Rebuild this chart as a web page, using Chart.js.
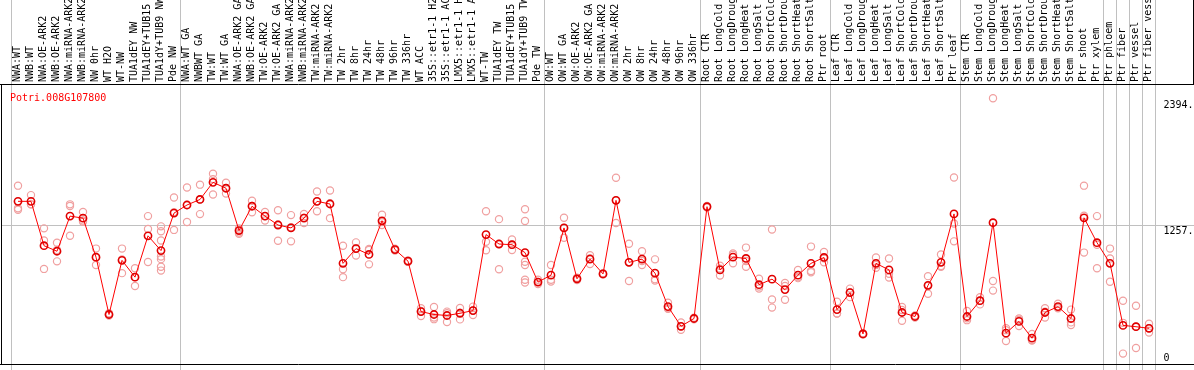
<!DOCTYPE html>
<html>
<head>
<meta charset="utf-8">
<script src="https://cdn.jsdelivr.net/npm/chart.js@4.4.1/dist/chart.umd.min.js"></script>
<style>
  html, body { margin: 0; padding: 0; background: #fff; }
  #wrap { width: 1194px; height: 370px; position: relative; }
</style>
</head>
<body>
<div id="wrap"><canvas id="chart"></canvas></div>
<script>
const geneId = 'Potri.008G107800';

// sample names as shown (truncated to 14 chars like the original)
const samples = [
  'NWA:WT', 'NWB:WT', 'NWA:OE-ARK2', 'NWB:OE-ARK2', 'NWA:miRNA-ARK2', 'NWB:miRNA-ARK2',
  'NW 0hr', 'WT H2O', 'WT-NW', 'TUA1dEY NW', 'TUA1dEY+TUB15', 'TUA1dY+TUB9 NW', 'Pde NW',
  'NWA:WT GA', 'NWBWT GA', 'TW:WT', 'TW:WT GA', 'NWA:OE-ARK2 GA', 'NWB:OE-ARK2 GA',
  'TW:OE-ARK2', 'TW:OE-ARK2 GA', 'NWA:miRNA-ARK2', 'NWB:miRNA-ARK2', 'TW:miRNA-ARK2',
  'TW:miRNA-ARK2', 'TW 2hr', 'TW 8hr', 'TW 24hr', 'TW 48hr', 'TW 96hr', 'TW 336hr',
  'WT ACC', '35S::etr1-1 H2', '35S::etr1-1 AC', 'LMX5::etr1-1 H', 'LMX5::etr1-1 A',
  'WT-TW', 'TUA1dEY TW', 'TUA1dEY+TUB15', 'TUA1dY+TUB9 TW', 'Pde TW',
  'OW:WT', 'OW:WT GA', 'OW:OE-ARK2', 'OW:OE-ARK2 GA', 'OW:miRNA-ARK2', 'OW:miRNA-ARK2',
  'OW 2hr', 'OW 8hr', 'OW 24hr', 'OW 48hr', 'OW 96hr', 'OW 336hr',
  'Root CTR', 'Root LongCold', 'Root LongDroug', 'Root LongHeat', 'Root LongSalt',
  'Root ShortCold', 'Root ShortDrou', 'Root ShortHeat', 'Root ShortSalt', 'Ptr root',
  'Leaf CTR', 'Leaf LongCold', 'Leaf LongDroug', 'Leaf LongHeat', 'Leaf LongSalt',
  'Leaf ShortCold', 'Leaf ShortDrou', 'Leaf ShortHeat', 'Leaf ShortSalt', 'Ptr leaf',
  'Stem CTR', 'Stem LongCold', 'Stem LongDroug', 'Stem LongHeat', 'Stem LongSalt',
  'Stem ShortCold', 'Stem ShortDrou', 'Stem ShortHeat', 'Stem ShortSalt', 'Ptr shoot',
  'Ptr xylem', 'Ptr phloem', 'Ptr fiber', 'Ptr vessel', 'Ptr fiber vess'
];

const means = [
  1467, 1467, 1068, 1018, 1334, 1316, 965, 449, 936, 785, 1157, 1024, 1361,
  1434, 1484, 1638, 1585, 1204, 1423, 1334, 1254, 1228, 1316, 1467, 1443,
  909, 1042, 989, 1292, 1033, 929, 475, 449, 440, 460, 484, 1168, 1083, 1077, 1006, 741,
  803, 1228, 770, 947, 814, 1476, 918, 947, 821, 520, 343, 413,
  1419, 850, 965, 953, 717, 767, 673, 803, 909, 962,
  493, 646, 274, 909, 850, 467, 431, 711, 918, 1354,
  431, 573, 1275, 281, 387, 236, 467, 520, 413, 1319,
  1095, 909, 351, 339, 325
];

const replicates = [
  [1608, 1405, 1392], [1523, 1440, 1440], [1224, 1115, 859], [1095, 927, 1030],
  [1440, 1425, 1157], [1372, 1284, 1295], [1042, 960, 894], [460, 449, 440],
  [1042, 821, 945], [865, 706, 785], [1334, 1219, 921],
  [1242, 1198, 1115, 970, 947, 879, 844], [1502, 1210, 1370],
  [1591, 1281, 1434], [1617, 1352, 1484], [1715, 1667, 1529], [1635, 1538, 1585],
  [1222, 1186, 1175], [1472, 1369, 1425], [1372, 1295, 1334], [1387, 1113, 1260],
  [1343, 1107, 1235], [1354, 1272, 1320], [1555, 1378, 1467], [1564, 1316, 1450],
  [1068, 856, 785], [1098, 980, 1045], [1038, 900, 1030], [1346, 1254, 1280],
  [1040, 1033, 1025], [935, 929, 922], [505, 436, 480], [516, 422, 407],
  [475, 381, 460], [507, 405, 465], [520, 445, 485], [1378, 1104, 1027],
  [1307, 856, 1083], [1124, 1029, 1077], [1396, 1290, 923, 894, 761, 737], [761, 741, 723],
  [894, 761, 746], [1319, 1139, 1228], [780, 770, 760], [983, 903, 955],
  [820, 814, 808], [1679, 1272, 1476], [1086, 750, 918], [1018, 894, 930],
  [945, 755, 767], [555, 505, 500], [378, 312, 340], [420, 413, 406],
  [1425, 1419, 1412], [888, 799, 860], [998, 909, 985], [1051, 879, 930],
  [770, 682, 700], [1213, 584, 511], [732, 582, 705], [850, 776, 785],
  [1060, 841, 829], [1012, 918, 955],
  [564, 458, 458], [682, 605, 650], [280, 274, 268], [962, 870, 895],
  [953, 782, 815], [516, 392, 490], [440, 422, 431], [794, 635, 705],
  [989, 879, 885], [1682, 1268, 1107],
  [481, 398, 415], [605, 540, 573], [2394, 750, 664], [325, 210, 308],
  [413, 345, 400], [274, 215, 220], [505, 422, 475], [546, 505, 510],
  [493, 378, 354], [1608, 1337, 1006],
  [1334, 1077, 865], [1042, 953, 744], [573, 374, 97], [528, 148, 340], [366, 286, 325]
];

// separators drawn before these sample indices
const groupBreaks = [0, 13, 41, 53, 63, 73, 84, 85, 86, 87, 88];

const yMaxValue = Math.max(...replicates.flat());   // 2394
const yTop = yMaxValue * 1.05;
const yTicks = [0, Math.round(yTop / 2), yMaxValue];
const yTickLabels = ['0', '1257.', '2394.'];

const FONT = '10px "DejaVu Sans Mono", monospace';

const framePlugin = {
  id: 'frame',
  beforeDraw(chart) {
    const { ctx, chartArea: a, scales: { x, y } } = chart;
    ctx.save();
    ctx.strokeStyle = '#c0c0c0';
    ctx.lineWidth = 1;
    ctx.beginPath();
    groupBreaks.forEach(k => {
      const px = Math.round(x.getPixelForValue(k - 0.5)) - 0.5;
      ctx.moveTo(px, 0);
      ctx.lineTo(px, chart.height);
    });
    const gy = Math.round(y.getPixelForValue(yTicks[1])) + 0.5;
    ctx.moveTo(2, gy);
    ctx.lineTo(chart.width, gy);
    ctx.stroke();
    ctx.restore();
  },
  afterDraw(chart) {
    const { ctx, chartArea: a, scales: { y } } = chart;
    ctx.save();
    ctx.strokeStyle = '#000';
    ctx.lineWidth = 1;
    ctx.beginPath();
    const top = Math.round(a.top) - 0.5;
    const bot = Math.round(a.bottom) + 0.5;
    ctx.moveTo(0, top); ctx.lineTo(chart.width, top);
    ctx.moveTo(0, bot); ctx.lineTo(chart.width, bot);
    ctx.moveTo(1.5, top); ctx.lineTo(1.5, bot);
    ctx.moveTo(chart.width - 0.5, 0); ctx.lineTo(chart.width - 0.5, top);
    ctx.stroke();

    ctx.font = FONT;
    ctx.textBaseline = 'top';
    ctx.textAlign = 'left';
    ctx.fillStyle = '#ff0000';
    ctx.fillText(geneId, 10, a.top + 8);

    ctx.fillStyle = '#000';
    yTicks.forEach((v, i) => {
      const py = Math.min(y.getPixelForValue(v) + 2, a.bottom - 11);
      ctx.fillText(yTickLabels[i], a.right + 8, py);
    });
    ctx.restore();
  }
};

new Chart(document.getElementById('chart'), {
  type: 'line',
  data: {
    datasets: [
      {
        label: 'mean',
        data: means.map((v, i) => ({ x: i, y: v })),
        borderColor: '#ff0000',
        borderWidth: 1,
        pointRadius: 3.6,
        pointBorderWidth: 1.6,
        pointBorderColor: '#e00000',
        pointBackgroundColor: 'rgba(0,0,0,0)',
        tension: 0
      },
      {
        label: 'replicates',
        data: replicates.flatMap((reps, i) => reps.map(v => ({ x: i, y: v }))),
        showLine: false,
        pointRadius: 3.6,
        pointBorderWidth: 1.2,
        pointBorderColor: '#f0a0a0',
        pointBackgroundColor: 'rgba(0,0,0,0)'
      }
    ]
  },
  options: {
    responsive: true,
    maintainAspectRatio: false,
    animation: false,
    events: [],
    layout: { padding: { left: 11.5, right: 0, top: 0, bottom: 1 } },
    plugins: { legend: { display: false }, tooltip: { enabled: false } },
    scales: {
      x: {
        type: 'linear',
        position: 'top',
        min: -0.5,
        max: samples.length - 0.5,
        afterBuildTicks: s => { s.ticks = samples.map((_, i) => ({ value: i })); },
        afterFit: s => { s.height = 85; },
        grid: { display: false, drawTicks: false },
        border: { display: false },
        ticks: {
          autoSkip: false,
          minRotation: 90,
          maxRotation: 90,
          padding: 3,
          labelOffset: 11,
          color: '#000',
          font: { family: '"DejaVu Sans Mono", monospace', size: 10 },
          callback: v => samples[v]
        }
      },
      y: {
        position: 'right',
        min: 0,
        max: yTop,
        afterFit: s => { s.width = 38.5; },
        grid: { display: false, drawTicks: false },
        border: { display: false },
        ticks: { display: false }
      }
    }
  },
  plugins: [framePlugin]
});
</script>
</body>
</html>
